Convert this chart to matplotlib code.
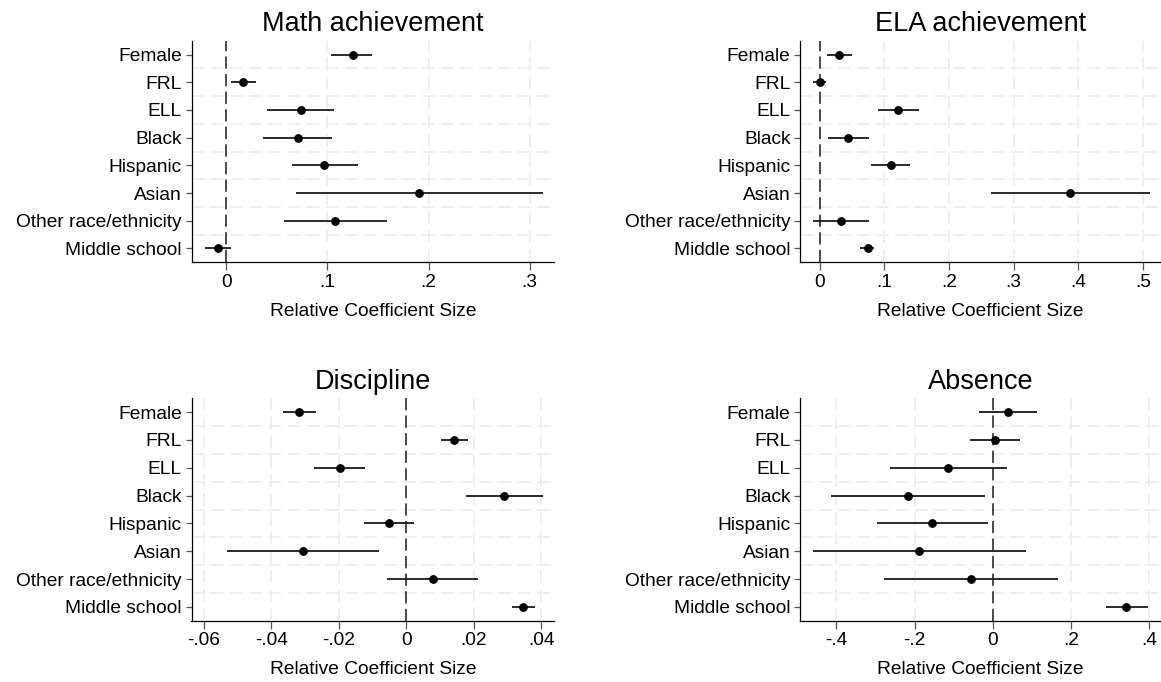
import matplotlib
matplotlib.use("Agg")
import matplotlib.pyplot as plt
import numpy as np

plt.rcParams['font.family'] = ['Liberation Sans', 'DejaVu Sans']

categories = ["Female", "FRL", "ELL", "Black", "Hispanic", "Asian",
              "Other race/ethnicity", "Middle school"]

# Math achievement
math_est = [0.125, 0.017, 0.074, 0.0705, 0.097, 0.191, 0.1075, -0.0077]
math_lo = [0.104, 0.005, 0.0407, 0.0363, 0.0646, 0.0694, 0.0569, -0.0206]
math_hi = [0.1446, 0.029, 0.1064, 0.105, 0.1299, 0.313, 0.1585, 0.0048]
math_ticks = [0, 0.1, 0.2, 0.3]
math_ticklabels = ["0", ".1", ".2", ".3"]

# ELA achievement
ela_est = [0.0298, 0.0006, 0.121, 0.0442, 0.1095, 0.387, 0.0327, 0.074]
ela_lo = [0.0109, -0.0103, 0.0906, 0.0126, 0.0797, 0.2643, -0.0103, 0.063]
ela_hi = [0.0493, 0.0103, 0.1531, 0.0757, 0.1393, 0.5103, 0.0757, 0.0843]
ela_ticks = [0, 0.1, 0.2, 0.3, 0.4, 0.5]
ela_ticklabels = ["0", ".1", ".2", ".3", ".4", ".5"]

# Discipline
disc_est = [-0.0318, 0.0142, -0.0198, 0.0291, -0.0052, -0.0307, 0.0078, 0.0347]
disc_lo = [-0.0366, 0.0102, -0.0273, 0.0177, -0.0126, -0.0532, -0.0056, 0.0312]
disc_hi = [-0.0269, 0.0184, -0.0122, 0.0404, 0.0022, -0.008, 0.0213, 0.0381]
disc_ticks = [-0.06, -0.04, -0.02, 0, 0.02, 0.04]
disc_ticklabels = ["-.06", "-.04", "-.02", "0", ".02", ".04"]

# Absence
abs_est = [0.038, 0.0047, -0.1137, -0.218, -0.1545, -0.1886, -0.0559, 0.3412]
abs_lo = [-0.035, -0.0588, -0.2635, -0.415, -0.2967, -0.4607, -0.2787, 0.2882]
abs_hi = [0.1128, 0.0692, 0.037, -0.019, -0.0123, 0.0853, 0.1678, 0.3972]
abs_ticks = [-0.4, -0.2, 0, 0.2, 0.4]
abs_ticklabels = ["-.4", "-.2", "0", ".2", ".4"]

titles = ["Math achievement", "ELA achievement", "Discipline", "Absence"]
xlabel = "Relative Coefficient Size"

W, H = 1161, 682
fig = plt.figure(figsize=(W / 100, H / 100), dpi=100)
fig.patch.set_facecolor("white")


def rect(l, t, r, b):
    return [l / W, 1 - b / H, (r - l) / W, (b - t) / H]


panels = [
    (rect(191.5, 40.7, 554.4, 262.3), math_est, math_lo, math_hi,
     math_ticks, math_ticklabels, (-0.0344, 0.3245)),
    (rect(800.4, 40.7, 1161, 262.3), ela_est, ela_lo, ela_hi,
     ela_ticks, ela_ticklabels, (-0.0299, 0.528)),
    (rect(191.5, 398.3, 554.4, 620.7), disc_est, disc_lo, disc_hi,
     disc_ticks, disc_ticklabels, (-0.0637, 0.0439)),
    (rect(800.4, 398.3, 1161, 620.7), abs_est, abs_lo, abs_hi,
     abs_ticks, abs_ticklabels, (-0.492, 0.430)),
]

fs_tick = 13.8
fs_title = 19.5

for (r, est, lo, hi, ticks, tlabels, xl), title in zip(panels, titles):
    ax = fig.add_axes(r)
    y = np.arange(1, len(categories) + 1)
    ax.set_ylim(len(categories) + 0.5, 0.5)
    ax.set_xlim(*xl)
    # gridlines
    for gy in np.arange(1.5, len(categories), 1.0):
        ax.axhline(gy, color="#ececec", lw=1.2, ls=(0, (7.5, 4)), zorder=0)
    for tx in ticks:
        if tx != 0:
            ax.axvline(tx, color="#ececec", lw=1.2, ls=(0, (7.5, 4)), zorder=0)
    ax.axvline(0, color="#1a1a1a", lw=1.1, ls=(0, (8, 3.5)), zorder=1)
    ax.hlines(y, lo, hi, color="#1a1a1a", lw=1.3, zorder=2)
    ax.plot(est, y, "o", color="black", ms=5.3, zorder=3)

    ax.set_yticks(y)
    ax.set_yticklabels(categories, fontsize=fs_tick)
    ax.set_xticks(ticks)
    ax.set_xticklabels(tlabels, fontsize=fs_tick)
    ax.tick_params(axis="y", length=4.5, width=0.9, color="#555555", pad=2.6)
    ax.tick_params(axis="x", length=5.8, width=0.9, color="#555555", pad=2.3)
    for s in ["top", "right"]:
        ax.spines[s].set_visible(False)
    for s in ["left", "bottom"]:
        ax.spines[s].set_linewidth(0.9)
        ax.spines[s].set_color("black")

    ax.annotate(title, xy=(0.5, 1), xycoords="axes fraction",
                xytext=(0, 6.8), textcoords="offset points",
                ha="center", va="baseline", fontsize=fs_title)
    ax.annotate(xlabel, xy=(0.5, 0), xycoords="axes fraction",
                xytext=(0, -38.6), textcoords="offset points",
                ha="center", va="baseline", fontsize=fs_tick)

fig.savefig("out.png", dpi=100, facecolor="white")
